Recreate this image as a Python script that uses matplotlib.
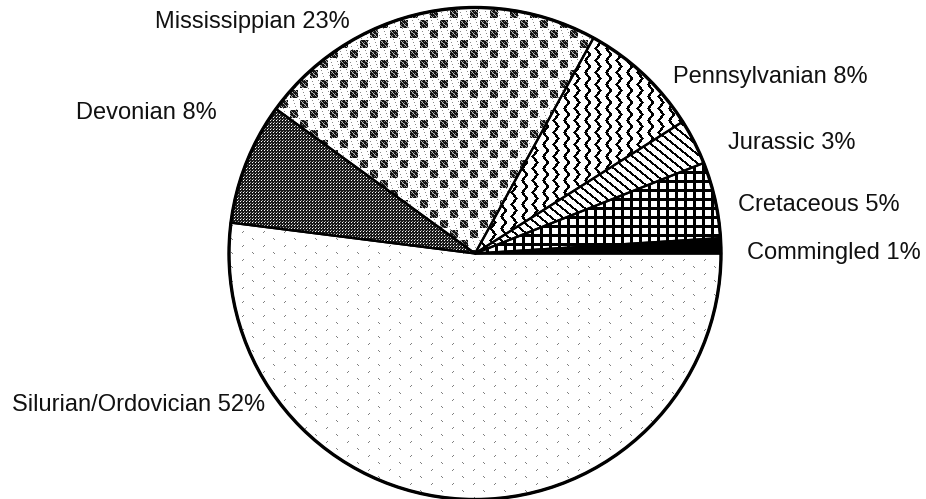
import numpy as np
import matplotlib
matplotlib.use("Agg")
import matplotlib.pyplot as plt
from matplotlib.patches import Circle

# pie data, counterclockwise from 3 o'clock
formations = ["Commingled", "Cretaceous", "Jurassic", "Pennsylvanian",
              "Mississippian", "Devonian", "Silurian/Ordovician"]
shares = [1, 5, 3, 8, 23, 8, 52]

# label placement in pixels (x, y from top) and alignment
label_pos = [(747, 253, "left"), (738, 205, "left"), (728, 143, "left"),
             (673, 77, "left"), (350, 22, "right"), (217, 113, "right"),
             (265, 405, "right")]

W, H = 926, 499
cx, cy, rad = 475, 253.5, 246

Y, X = np.mgrid[0:H, 0:W]


def pattern(name):
    # grey level textures, 1 = white, 0 = black
    img = np.ones((H, W))
    if name == "Commingled":
        img[:] = 0.0
    elif name == "Cretaceous":
        img[(X % 9 < 3) | (Y % 9 < 3)] = 0.0
    elif name == "Jurassic":
        img[((Y - 0.8 * X) % 9) < 2.5] = 0.0
    elif name == "Pennsylvanian":
        tri = np.abs((Y / 12.0) % 1.0 - 0.5) * 2
        img[((X + 4.5 * tri) % 10.5) < 3] = 0.0
    elif name == "Mississippian":
        # coarse checkerboard of speckled dark squares
        dark = (((X // 10 + Y // 10) % 2 == 0)
                & (X % 10 < 8) & (Y % 10 < 8))
        img[dark] = 0.08
        img[dark & ((X * 7 + Y * 13) % 5 == 0)] = 0.7
        img[dark & ((X * 3 + Y * 5) % 7 == 0)] = 0.45
        img[~dark & ((X * 5 + Y * 11) % 19 == 0)] = 0.55
    elif name == "Devonian":
        img[:] = 0.1
        img[(X % 3 == 0) & (Y % 3 == 0)] = 1.0
        img[(X % 3 == 1) & (Y % 3 == 2)] = 0.6
    elif name == "Silurian/Ordovician":
        a = (X % 21 < 2) & (Y % 14 == X % 21)
        b = ((X + 10) % 21 < 2) & ((Y + 7) % 14 == 1 - (X + 10) % 21)
        img[a | b] = 0.5
    return img


fig = plt.figure(figsize=(W / 100, H / 100), dpi=100)
ax = fig.add_axes([0, 0, 1, 1])

wedges, _ = ax.pie(shares, startangle=0, counterclock=True,
                   center=(cx, H - cy), radius=rad,
                   wedgeprops=dict(facecolor="none", edgecolor="black",
                                   linewidth=1.6, zorder=3))

for w, name in zip(wedges, formations):
    im = ax.imshow(pattern(name), cmap="gray", vmin=0, vmax=1,
                   extent=(0, W, 0, H), origin="upper",
                   interpolation="nearest", zorder=2)
    im.set_clip_path(w)

ax.add_patch(Circle((cx, H - cy), rad, facecolor="none",
                    edgecolor="black", linewidth=2.4, zorder=4))

for name, pct, (lx, ly, ha) in zip(formations, shares, label_pos):
    ax.text(lx, H - ly, f"{name} {pct}%", ha=ha, va="center",
            fontsize=17, family="Liberation Sans", color="#111111")

ax.set_xlim(0, W)
ax.set_ylim(0, H)
ax.set_aspect("auto")
ax.axis("off")

fig.savefig("out.png", dpi=100, facecolor="white")
